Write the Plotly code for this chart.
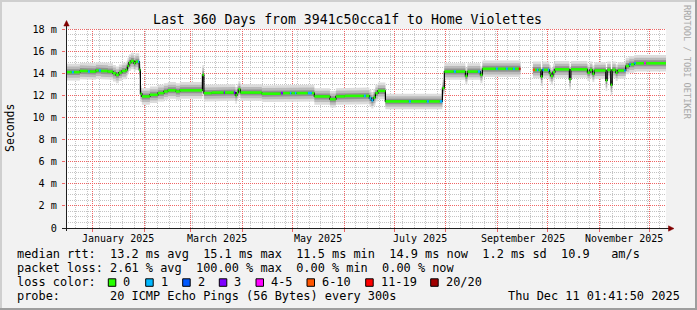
import math
import plotly.graph_objects as go
import pandas as pd

# ---------------- data ----------------
t_start = "2024-12-16 01:41:50"
t_end = "2025-12-11 01:41:50"

step_start = [
    "2024-12-16 01:41", "2024-12-19 14:00", "2024-12-20 19:00", "2024-12-24 10:00", "2024-12-29 05:00",
    "2024-12-30 10:00", "2025-01-03 00:00", "2025-01-04 19:00", "2025-01-06 00:00", "2025-01-10 05:00",
    "2025-01-13 05:00", "2025-01-15 00:00", "2025-01-16 19:00", "2025-01-18 14:00", "2025-01-21 00:00",
    "2025-01-21 22:00", "2025-01-22 19:00", "2025-01-24 00:00", "2025-01-25 19:00", "2025-01-26 17:00",
    "2025-01-28 05:00", "2025-01-29 00:00", "2025-01-29 17:00", "2025-01-30 14:00", "2025-02-04 10:00",
    "2025-02-09 05:00", "2025-02-12 19:00", "2025-02-15 05:00", "2025-02-20 00:00", "2025-02-22 10:00",
    "2025-03-07 22:00", "2025-03-08 19:00", "2025-03-13 14:00", "2025-03-20 19:00", "2025-03-21 10:00",
    "2025-03-26 19:00", "2025-03-27 17:00", "2025-03-28 14:00", "2025-03-29 12:00", "2025-03-30 17:00",
    "2025-04-12 14:00", "2025-04-24 00:00", "2025-04-25 05:00", "2025-04-29 10:00", "2025-04-30 07:00",
    "2025-05-02 10:00", "2025-05-03 07:00", "2025-05-10 05:00", "2025-05-12 14:00", "2025-05-14 02:00",
    "2025-05-23 10:00", "2025-05-27 00:00", "2025-06-01 10:00", "2025-06-12 19:00", "2025-06-14 00:00",
    "2025-06-16 02:00", "2025-06-17 07:00", "2025-06-18 12:00", "2025-06-19 17:00", "2025-06-21 05:00",
    "2025-06-25 17:00", "2025-07-09 19:00", "2025-07-11 00:00", "2025-07-20 14:00", "2025-07-21 19:00",
    "2025-07-28 10:00", "2025-07-29 22:00", "2025-07-31 02:00", "2025-08-05 19:00", "2025-08-07 00:00",
    "2025-08-12 17:00", "2025-08-13 22:00", "2025-08-20 05:00", "2025-08-21 17:00", "2025-08-22 22:00",
    "2025-08-31 00:00", "2025-09-01 05:00", "2025-09-06 00:00", "2025-09-07 05:00", "2025-09-10 05:00",
    "2025-09-11 10:00", "2025-09-13 19:00", "2025-09-14 17:00", "2025-09-22 05:00", "2025-09-23 10:00",
    "2025-09-24 14:00", "2025-09-25 12:00", "2025-09-27 00:00", "2025-09-27 22:00", "2025-09-28 19:00",
    "2025-10-01 05:00", "2025-10-02 02:00", "2025-10-03 00:00", "2025-10-04 05:00", "2025-10-05 10:00",
    "2025-10-14 02:00", "2025-10-15 00:00", "2025-10-24 22:00", "2025-10-26 10:00", "2025-10-27 22:00",
    "2025-10-29 02:00", "2025-11-04 22:00", "2025-11-05 19:00", "2025-11-07 22:00", "2025-11-08 19:00",
    "2025-11-10 22:00", "2025-11-12 02:00", "2025-11-16 00:00", "2025-11-16 22:00", "2025-11-19 00:00",
    "2025-11-19 22:00", "2025-11-22 00:00", "2025-11-22 22:00", "2025-11-28 00:00", "2025-11-28 22:00",
]
median_ms = [
    14.10, 14.10, 14.10, 14.20, 14.15,
    14.15, 14.25, 14.25, 14.20, 14.15,
    14.00, 13.85, 14.05, 14.20, 14.30,
    14.65, 14.95, 15.10, 14.90, 15.05,
    15.05, 14.30, 12.15, 11.90, 12.05,
    12.20, 12.35, 12.45, 12.35, 12.45,
    13.85, 12.20, 12.25, 12.25, 12.25,
    12.25, 12.00, 12.25, 12.55, 12.25,
    12.15, 12.20, 12.20, 12.20, 12.20,
    12.20, 12.20, 12.20, 12.20, 11.90,
    11.65, 11.90, 11.95, 11.95, 11.95,
    11.75, 11.55, 11.80, 12.20, 12.40,
    11.45, 11.45, 11.45, 11.45, 11.45,
    11.45, 12.65, 14.15, 14.15, 14.15,
    13.75, 14.15, 14.15, 13.85, 14.40,
    14.40, 14.40, 14.40, 14.40, 14.40,
    14.40, 14.40, None, 14.30, 14.30,
    14.30, 14.30, 13.70, 14.30, 14.30,
    14.30, 14.00, 13.75, 14.10, 14.35,
    13.45, 14.35, 14.05, 14.30, 13.95,
    14.25, 13.35, 14.30, 12.95, 14.30,
    14.05, 14.25, 14.25, 14.65, 14.80,
    14.80, 14.90, 14.90, 14.90, 14.90,
]
loss_cls = [
    0, 1, 0, 0, 1,
    0, 0, 1, 0, 0,
    0, 0, 0, 0, 0,
    0, 0, 0, 0, 0,
    1, 0, 0, 0, 0,
    0, 0, 0, 0, 0,
    0, 0, 0, 3, 0,
    3, 0, 0, 0, 0,
    0, 3, 0, 1, 0,
    1, 0, 1, 0, 0,
    0, 0, 0, 1, 0,
    1, 1, 0, 0, 0,
    0, 1, 0, 1, 0,
    1, 0, 0, 1, 0,
    0, 0, 1, 0, 0,
    1, 0, 1, 0, 1,
    0, 6, 0, 5, 0,
    1, 0, 0, 1, 0,
    1, 0, 0, 0, 0,
    0, 0, 0, 0, 0,
    0, 0, 0, 0, 0,
    0, 0, 1, 0, 1,
    0, 1, 0, 4, 0,
]
smoke_ms = [
    0.75, 0.75, 0.75, 0.75, 0.75,
    0.75, 0.75, 0.75, 0.75, 0.75,
    0.75, 0.75, 0.75, 0.75, 0.75,
    0.75, 0.75, 0.75, 0.75, 0.75,
    0.75, 0.75, 0.75, 0.75, 0.75,
    0.75, 0.75, 0.75, 0.75, 0.75,
    0.90, 0.75, 0.75, 0.75, 0.75,
    0.75, 0.75, 0.75, 0.75, 0.75,
    0.75, 0.75, 0.75, 0.75, 0.75,
    0.75, 0.75, 0.75, 0.75, 0.75,
    0.75, 0.75, 0.75, 0.75, 0.75,
    0.75, 0.75, 0.75, 0.75, 0.75,
    0.70, 0.70, 0.70, 0.70, 0.70,
    0.70, 0.75, 0.75, 0.75, 0.75,
    0.75, 0.75, 0.75, 0.75, 0.75,
    0.75, 0.75, 0.75, 0.75, 0.75,
    0.75, 0.75, None, 0.75, 0.75,
    0.75, 0.75, 0.85, 0.75, 0.75,
    0.75, 0.75, 0.75, 0.75, 0.75,
    0.95, 0.75, 0.75, 0.75, 0.75,
    0.75, 0.95, 0.75, 0.95, 0.75,
    0.75, 0.75, 0.75, 0.75, 0.75,
    0.75, 0.75, 0.75, 0.75, 0.75,
]

loss_labels = ["0", "1", "2", "3", "4-5", "6-10", "11-19", "20/20"]
loss_colors = ["#26ff00", "#00b8ff", "#0059ff", "#7e00ff", "#ff00ff", "#ff5500", "#ff0000", "#a10000"]

y_ticks = [0, 2, 4, 6, 8, 10, 12, 14, 16, 18]
y_ticktext = ["0", "2 m", "4 m", "6 m", "8 m", "10 m", "12 m", "14 m", "16 m", "18 m"]
month_starts = ["2025-01-01", "2025-02-01", "2025-03-01", "2025-04-01", "2025-05-01", "2025-06-01",
                "2025-07-01", "2025-08-01", "2025-09-01", "2025-10-01", "2025-11-01", "2025-12-01"]
x_label_pos = ["2025-01-16 12:00", "2025-03-16 12:00", "2025-05-16 12:00",
               "2025-07-16 12:00", "2025-09-16", "2025-11-16"]
x_label_text = ["January 2025", "March 2025", "May 2025", "July 2025", "September 2025", "November 2025"]

title = "Last 360 Days from 3941c50cca1f to Home Violettes"
legend_lines = [
    "median rtt:  13.2 ms avg  15.1 ms max  11.5 ms min  14.9 ms now  1.2 ms sd  10.9   am/s",
    "packet loss: 2.61 % avg  100.00 % max  0.00 % min  0.00 % now",
    "loss color:",
    "probe:       20 ICMP Echo Pings (56 Bytes) every 300s",
]
stamp = "Thu Dec 11 01:41:50 2025"

# ---------------- layout geometry (pixels) ----------------
W, H = 697, 310
L, R, T, B = 66, 666, 29, 228
Y_MAX = 18
MONO = "DejaVu Sans Mono"
MINOR_COL = "#c4c4c4"
MAJOR_COL = "#f06464"
DOT = "1px,1px"


def px(x):
    return (x - L) / (R - L)


def py(y):
    return (B - y) / (B - T)


ts0, ts1 = pd.Timestamp(t_start), pd.Timestamp(t_end)
span = (ts1 - ts0).total_seconds()


def date_pix(d):
    # pixel column centre of a grid line for a date (grid decoration only)
    xp = L + (pd.Timestamp(d) - ts0).total_seconds() / span * (R - L)
    return math.floor(xp) + 0.5


def val_pix(v):
    yp = B - v * (B - T) / Y_MAX
    return math.floor(yp) + 0.5


fig = go.Figure()

step_end = step_start[1:] + [t_end]
n = len(step_start)

blocks = []
cur = []
for i in range(n):
    if median_ms[i] is None:
        if cur:
            blocks.append(cur)
        cur = []
    else:
        cur.append(i)
if cur:
    blocks.append(cur)

# smoke bands
bands = [(1.0, "#dcdcdc"), (0.68, "#bababa"), (0.36, "#919191")]
for frac, col in bands:
    for blk in blocks:
        xs, ys_up, ys_lo = [], [], []
        for i in blk:
            xs += [step_start[i], step_end[i]]
            up = median_ms[i] + smoke_ms[i] * frac
            lo = median_ms[i] - smoke_ms[i] * frac
            ys_up += [up, up]
            ys_lo += [lo, lo]
        fig.add_trace(go.Scatter(
            x=xs + xs[::-1], y=ys_up + ys_lo[::-1], fill="toself", fillcolor=col,
            mode="lines", line=dict(width=0), hoverinfo="skip", showlegend=False))

# black median connector line
bx, by = [], []
for blk in blocks:
    for i in blk:
        bx += [step_start[i], step_end[i]]
        by += [median_ms[i], median_ms[i]]
    bx.append(None)
    by.append(None)
fig.add_trace(go.Scatter(x=bx, y=by, mode="lines", line=dict(color="#000000", width=1.2),
                         hoverinfo="skip", showlegend=False))

# coloured median segments by loss class
for c, col in enumerate(loss_colors):
    xs, ys = [], []
    for i in range(n):
        if median_ms[i] is None or loss_cls[i] != c:
            continue
        xs += [step_start[i], step_end[i], None]
        ys += [median_ms[i], median_ms[i], None]
    if xs:
        fig.add_trace(go.Scatter(x=xs, y=ys, mode="lines", line=dict(color=col, width=2.6),
                                 hoverinfo="skip", showlegend=False))

shapes = []
# grid (drawn below traces, snapped to pixel centres)
month_cols = {date_pix(d) for d in month_starts}
for d in pd.date_range("2024-12-22", t_end, freq="7D"):
    if date_pix(d) in month_cols:
        continue
    xc = px(date_pix(d))
    shapes.append(dict(type="line", xref="paper", yref="y", x0=xc, x1=xc, y0=0, y1=Y_MAX, layer="below",
                       line=dict(color=MINOR_COL, width=1, dash=DOT)))
k = 1
while k * 0.5 <= Y_MAX:
    v = k * 0.5
    if k % 4 != 0:
        yc = py(val_pix(v))
        shapes.append(dict(type="line", xref="x", yref="paper", x0=t_start, x1=t_end, y0=yc, y1=yc,
                           layer="below", line=dict(color=MINOR_COL, width=1, dash=DOT)))
    k += 1
for d in month_starts:
    xc = px(date_pix(d))
    shapes.append(dict(type="line", xref="paper", yref="y", x0=xc, x1=xc, y0=0, y1=Y_MAX, layer="below",
                       line=dict(color=MAJOR_COL, width=1, dash=DOT)))
for v in y_ticks[1:]:
    yc = py(val_pix(v))
    shapes.append(dict(type="line", xref="x", yref="paper", x0=t_start, x1=t_end, y0=yc, y1=yc,
                       layer="below", line=dict(color=MAJOR_COL, width=1, dash=DOT)))

# frame shading
shapes.append(dict(type="rect", xref="paper", yref="paper", x0=px(0), x1=px(W), y0=py(0), y1=py(2),
                   fillcolor="#cfcfcf", line=dict(width=0)))
shapes.append(dict(type="rect", xref="paper", yref="paper", x0=px(0), x1=px(2), y0=py(0), y1=py(H),
                   fillcolor="#cfcfcf", line=dict(width=0)))
shapes.append(dict(type="rect", xref="paper", yref="paper", x0=px(W - 2), x1=px(W), y0=py(0), y1=py(H),
                   fillcolor="#9e9e9e", line=dict(width=0)))
shapes.append(dict(type="rect", xref="paper", yref="paper", x0=px(0), x1=px(W), y0=py(H - 2), y1=py(H),
                   fillcolor="#9e9e9e", line=dict(width=0)))
# axes
shapes.append(dict(type="line", xref="paper", yref="paper", x0=px(62), x1=px(669), y0=py(228.5), y1=py(228.5),
                   line=dict(color="#1f1f1f", width=1)))
shapes.append(dict(type="line", xref="paper", yref="paper", x0=px(66.5), x1=px(66.5), y0=py(231), y1=py(26),
                   line=dict(color="#1f1f1f", width=1)))
# arrows
shapes.append(dict(type="path", xref="paper", yref="paper",
                   path=f"M {px(668.5)} {py(225.8)} L {px(674)} {py(228.5)} L {px(668.5)} {py(231.2)} Z",
                   fillcolor="#800000", line=dict(color="#800000", width=0.5)))
shapes.append(dict(type="path", xref="paper", yref="paper",
                   path=f"M {px(63.8)} {py(26)} L {px(66.5)} {py(20.5)} L {px(69.2)} {py(26)} Z",
                   fillcolor="#800000", line=dict(color="#800000", width=0.5)))

annotations = []
nb = lambda s: s.replace(" ", "\u00a0")
annotations.append(dict(text=nb(title), xref="paper", yref="paper", x=px(347.5), y=py(19),
                        xanchor="center", yanchor="middle", showarrow=False,
                        font=dict(family=MONO, size=13.2, color="#000000")))
for xp, txt in zip(x_label_pos, x_label_text):
    annotations.append(dict(text=nb(txt), xref="x", yref="paper", x=xp, y=py(238),
                            xanchor="center", yanchor="middle", showarrow=False,
                            font=dict(family=MONO, size=10, color="#000000")))
annotations.append(dict(text="Seconds", xref="paper", yref="paper", x=px(10), y=py(128),
                        xanchor="center", yanchor="middle", showarrow=False, textangle=-90,
                        font=dict(family=MONO, size=11.5, color="#000000")))
annotations.append(dict(text=nb("RRDTOOL / TOBI OETIKER"), xref="paper", yref="paper", x=px(687), y=py(62),
                        xanchor="center", yanchor="middle", showarrow=False, textangle=90,
                        font=dict(family=MONO, size=8.6, color="#a8a8a8")))
leg_y = [254.3, 268.1, 282.2, 296.1]
for yy, line in zip(leg_y, legend_lines):
    annotations.append(dict(text=nb(line), xref="paper", yref="paper", x=px(15), y=py(yy),
                            xanchor="left", yanchor="middle", showarrow=False,
                            font=dict(family=MONO, size=11.9, color="#000000")))
annotations.append(dict(text=nb(stamp), xref="paper", yref="paper", x=px(682), y=py(leg_y[3]),
                        xanchor="right", yanchor="middle", showarrow=False,
                        font=dict(family=MONO, size=11.9, color="#000000")))
box_x = [108.3, 145.7, 182.7, 219.3, 256.0, 307.0, 365.7, 430.7]
for bxp, lab, col in zip(box_x, loss_labels, loss_colors):
    shapes.append(dict(type="rect", xref="paper", yref="paper", x0=px(bxp), x1=px(bxp + 7.5),
                       y0=py(278.8), y1=py(286.3), fillcolor=col, line=dict(color="#000000", width=1)))
    annotations.append(dict(text=nb(lab), xref="paper", yref="paper", x=px(bxp + 13), y=py(leg_y[2]),
                            xanchor="left", yanchor="middle", showarrow=False,
                            font=dict(family=MONO, size=11.9, color="#000000")))

fig.update_layout(
    width=W, height=H, autosize=False,
    margin=dict(l=L, r=W - R, t=T, b=H - B, pad=0),
    paper_bgcolor="#f2f2f2", plot_bgcolor="#ffffff",
    shapes=shapes, annotations=annotations, showlegend=False,
    xaxis=dict(type="date", range=[t_start, t_end], tickmode="array", tickvals=month_starts,
               ticktext=[""] * len(month_starts), showticklabels=False, showgrid=False,
               ticks="outside", ticklen=3, tickcolor=MAJOR_COL, zeroline=False, showline=False),
    yaxis=dict(range=[0, Y_MAX], tickmode="array", tickvals=y_ticks, ticktext=y_ticktext, showgrid=False,
               ticks="outside", ticklen=3, tickcolor=MAJOR_COL, zeroline=False, showline=False,
               tickfont=dict(family=MONO, size=10.2, color="#000000"), ticklabelstandoff=3),
)

fig.write_html("out.html")
